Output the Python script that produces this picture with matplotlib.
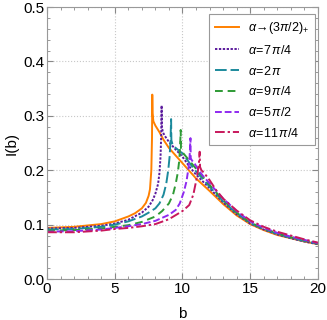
import matplotlib
matplotlib.use('Agg')
import matplotlib.pyplot as plt
from matplotlib.ticker import MultipleLocator

plt.rcParams['font.family'] = ['Liberation Sans', 'DejaVu Sans']
plt.rcParams['mathtext.fontset'] = 'custom'
plt.rcParams['mathtext.rm'] = 'Liberation Sans'
plt.rcParams['mathtext.it'] = 'Liberation Sans:italic'

# значення: b та I(b) для кожного alpha
b_a = [0, 2, 4, 5, 6, 6.5, 7, 7.3, 7.5, 7.6, 7.7, 7.75, 7.77,
       7.79, 7.85, 8.0, 8.3, 8.6, 9.0, 9.5, 10, 11, 12, 13, 14, 15, 16, 17, 18, 19, 20]
I_a = [0.094, 0.096, 0.101, 0.106, 0.115, 0.121, 0.130, 0.140, 0.153, 0.165, 0.200, 0.260, 0.339,
       0.305, 0.290, 0.282, 0.270, 0.256, 0.241, 0.227, 0.213, 0.185, 0.162, 0.138, 0.117, 0.101,
       0.090, 0.081, 0.075, 0.069, 0.064]

b_b = [0, 2, 4, 5, 6, 7, 7.5, 7.8, 8.0, 8.2, 8.3, 8.38, 8.43, 8.46,
       8.48, 8.55, 8.7, 9.0, 9.5, 10, 10.5, 11, 12, 13, 14, 15, 16, 17, 18, 19, 20]
I_b = [0.093, 0.094, 0.098, 0.102, 0.109, 0.122, 0.133, 0.145, 0.157, 0.175, 0.195, 0.225, 0.265, 0.319,
       0.280, 0.270, 0.263, 0.252, 0.238, 0.225, 0.207, 0.192, 0.167, 0.141, 0.119, 0.102,
       0.091, 0.082, 0.075, 0.069, 0.064]

b_c = [0, 2, 4, 5, 6, 7, 7.5, 8.0, 8.3, 8.6, 8.8, 8.95, 9.05, 9.12, 9.16,
       9.18, 9.25, 9.4, 9.7, 10, 10.5, 11, 12, 13, 14, 15, 16, 17, 18, 19, 20]
I_c = [0.091, 0.092, 0.096, 0.100, 0.106, 0.115, 0.122, 0.130, 0.139, 0.155, 0.175, 0.200, 0.225, 0.255, 0.294,
       0.255, 0.249, 0.243, 0.237, 0.231, 0.214, 0.198, 0.170, 0.143, 0.121, 0.103,
       0.092, 0.083, 0.076, 0.070, 0.065]

b_d = [0, 2, 4, 5, 6, 7, 8, 8.5, 9.0, 9.3, 9.5, 9.65, 9.75, 9.82, 9.87,
       9.89, 9.95, 10.1, 10.5, 11, 12, 13, 14, 15, 16, 17, 18, 19, 20]
I_d = [0.089, 0.090, 0.093, 0.096, 0.099, 0.105, 0.115, 0.125, 0.139, 0.155, 0.175, 0.195, 0.215, 0.240, 0.274,
       0.240, 0.235, 0.230, 0.218, 0.203, 0.173, 0.145, 0.122, 0.104,
       0.093, 0.084, 0.077, 0.071, 0.065]

b_e = [0, 2, 4, 5, 6, 7, 8, 9, 9.5, 9.8, 10.1, 10.3, 10.45, 10.53, 10.59,
       10.61, 10.7, 10.9, 11.2, 11.5, 12, 13, 14, 15, 16, 17, 18, 19, 20]
I_e = [0.087, 0.088, 0.091, 0.094, 0.097, 0.101, 0.107, 0.118, 0.127, 0.139, 0.160, 0.180, 0.205, 0.225, 0.259,
       0.222, 0.218, 0.212, 0.200, 0.190, 0.176, 0.148, 0.125, 0.106,
       0.094, 0.085, 0.078, 0.072, 0.066]

b_f = [0, 2, 4, 5, 6, 7, 8, 9, 10, 10.5, 10.8, 11.0, 11.15, 11.22, 11.27,
       11.3, 11.4, 11.6, 12, 12.5, 13, 14, 15, 16, 17, 18, 19, 20]
I_f = [0.086, 0.086, 0.089, 0.092, 0.094, 0.097, 0.101, 0.110, 0.125, 0.136, 0.155, 0.179, 0.200, 0.215, 0.234,
       0.206, 0.200, 0.195, 0.182, 0.163, 0.148, 0.126, 0.108,
       0.096, 0.087, 0.080, 0.073, 0.067]

labels = [r'$\alpha\!\rightarrow\!(3\pi/2)_{+}$', r'$\alpha\!=\!7\,\pi/4$', r'$\alpha\!=\!2\,\pi$',
          r'$\alpha\!=\!9\,\pi/4$', r'$\alpha\!=\!5\,\pi/2$', r'$\alpha\!=\!11\,\pi/4$']


def draw():
    fig = plt.figure(figsize=(3.27, 3.2), dpi=100)
    ax = fig.add_axes([0.144, 0.128, 0.828, 0.85])

    ax.plot(b_a, I_a, color='#ff8000', lw=1.4, ls='-', label=labels[0])
    ax.plot(b_b, I_b, color='#5b1a9c', lw=1.4, ls=(0, (1.2, 0.8)), label=labels[1])
    ax.plot(b_c, I_c, color='#1c8a9c', lw=1.4, ls=(0, (6, 2)), label=labels[2])
    ax.plot(b_d, I_d, color='#2e9a35', lw=1.4, ls=(0, (4, 2.5)), label=labels[3])
    ax.plot(b_e, I_e, color='#8f2af0', lw=1.4, ls=(0, (3.5, 1.5)), label=labels[4])
    ax.plot(b_f, I_f, color='#c8185c', lw=1.4, ls=(0, (5, 1.5, 1.2, 1.5)), label=labels[5])

    ax.set_xlim(0, 20)
    ax.set_ylim(0, 0.5)
    ax.xaxis.set_major_locator(MultipleLocator(5))
    ax.xaxis.set_minor_locator(MultipleLocator(1))
    ax.yaxis.set_major_locator(MultipleLocator(0.1))
    ax.yaxis.set_minor_locator(MultipleLocator(0.02))
    ax.set_yticklabels(['%.1f' % v for v in ax.get_yticks()])
    ax.tick_params(which='both', direction='in', top=True, right=True, color='#888888',
                   labelsize=11, pad=2)
    ax.tick_params(which='major', length=4)
    ax.tick_params(which='minor', length=2)
    for s in ax.spines.values():
        s.set_color('#999999')
    ax.grid(True, which='major', ls=':', color='#c8c8c8', lw=0.8)

    ax.set_xlabel('b', fontsize=11, labelpad=8)
    ax.set_ylabel('I(b)', fontsize=11, labelpad=3)

    leg = ax.legend(loc='upper right', bbox_to_anchor=(0.989, 0.973), borderaxespad=0,
                    fontsize=9, handlelength=1.9, framealpha=1, fancybox=False,
                    edgecolor='#999999', borderpad=0.45, labelspacing=0.62,
                    handletextpad=0.75)
    leg.get_frame().set_linewidth(0.8)

    fig.savefig('out.png', dpi=100)


if __name__ == '__main__':
    draw()
